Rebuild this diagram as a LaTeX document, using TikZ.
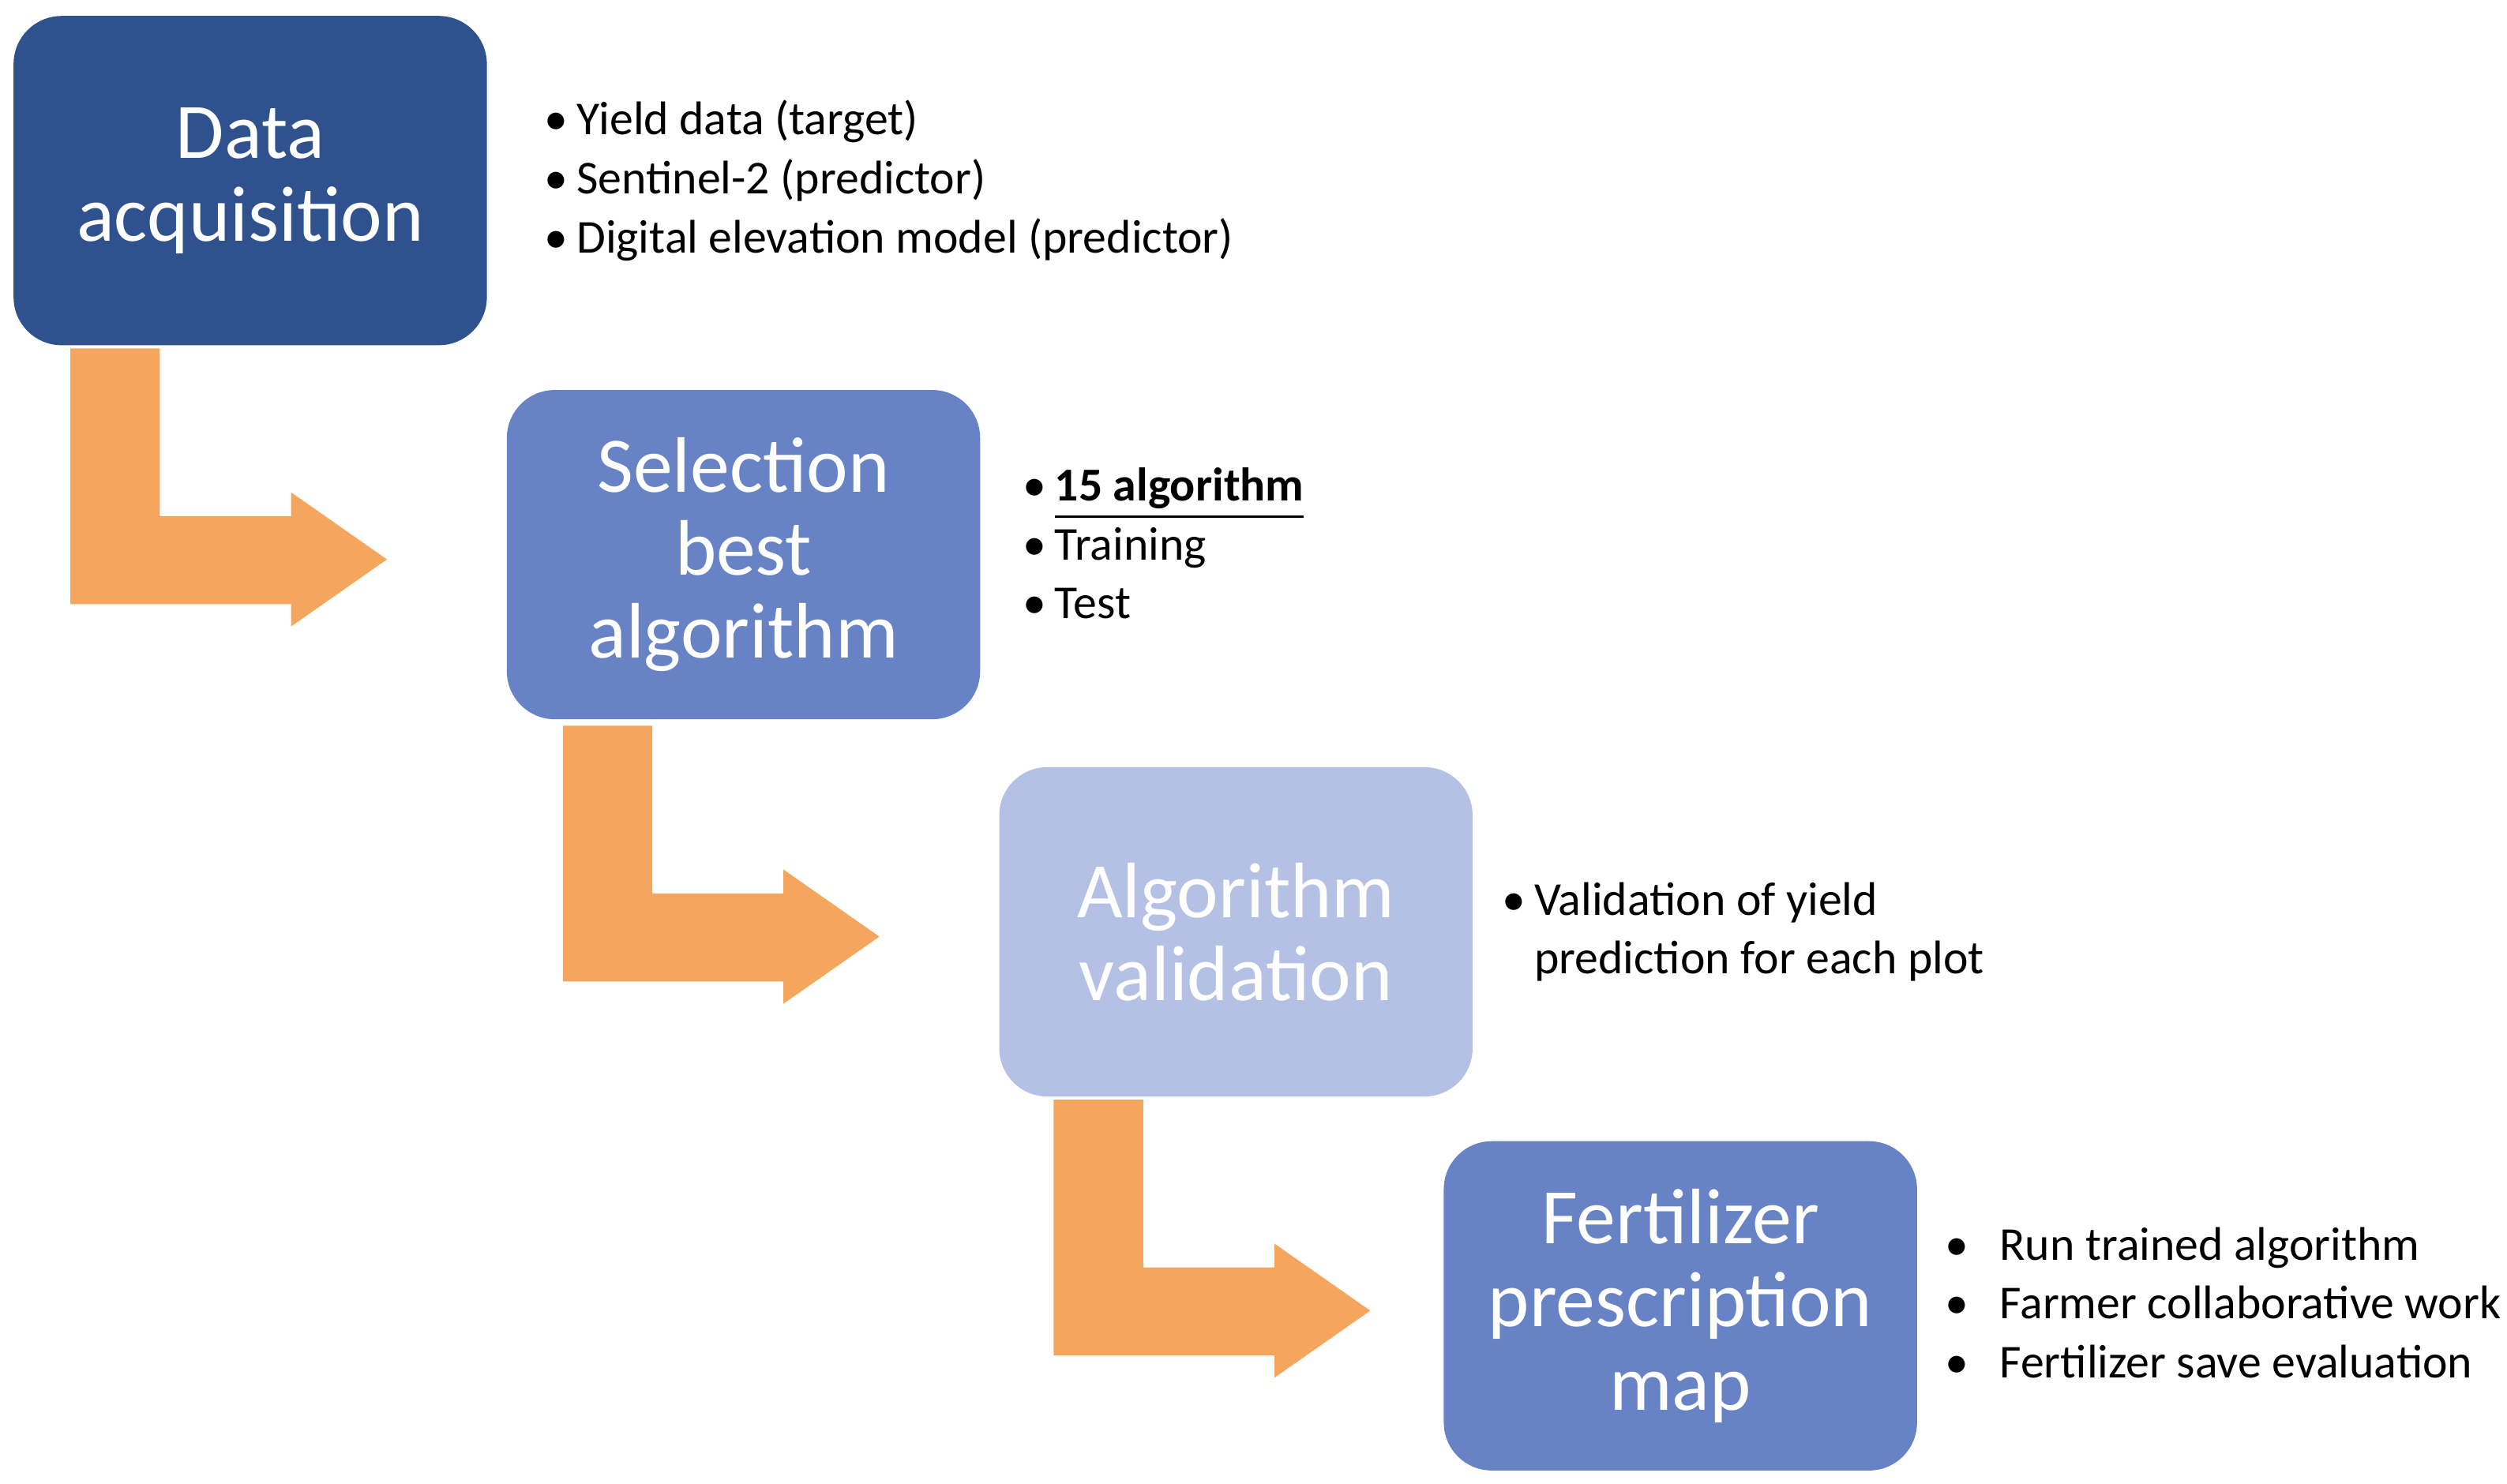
\documentclass[tikz,border=0pt]{standalone}
\usepackage{fontspec}
\setmainfont{Carlito}
\usetikzlibrary{positioning}
\definecolor{darkblue}{HTML}{2F528F}
\definecolor{midblue}{HTML}{6783C6}
\definecolor{lightblue}{HTML}{B4C1E4}
\definecolor{flow}{HTML}{F5A65E}
\tikzset{
  stage/.style={rounded corners=3mm, minimum width=29.6mm, minimum height=20.6mm,
    text width=27mm, align=center, font=\fontsize{14}{14.8}\selectfont, text=white, inner sep=0pt},
  notes/.style={right, align=left, font=\fontsize{8.4}{10.5}\selectfont, inner sep=0pt}
}
\newcommand{\bl}[1]{\makebox[2.0mm][l]{\textbullet}#1}
\newcommand{\flowarrow}[2]{%
  \fill[flow] (#1,#2) -- ++(5.6,0) -- ++(0,-10.5) -- ++(8.2,0) -- ++(0,1.5)
    -- ++(6,-4.2) -- ++(-6,-4.2) -- ++(0,1.4) -- ++(-13.8,0) -- cycle;}
\begin{document}
\begin{tikzpicture}[x=1mm,y=1mm]
\useasboundingbox (0,0) rectangle (156.8,-92.8);
\node[stage, fill=darkblue] (acq) at (15.65,-11.3) {Data\\acquisition};
\node[stage, fill=midblue] (sel) at (46.5,-34.7) {Selection\\best\\algorithm};
\node[stage, fill=lightblue] (val) at (77.3,-58.3) {Algorithm\\validation};
\node[stage, fill=midblue] (fert) at (105.1,-81.7) {Fertilizer\\prescription\\map};
\flowarrow{4.4}{-21.8}
\flowarrow{35.2}{-45.4}
\flowarrow{65.9}{-68.8}
\node[notes] (acqnotes) at (34.0,-11.3) {\bl{Yield data (target)}\\\bl{Sentinel-2 (predictor)}\\\bl{Digital elevation model (predictor)}};
\node[notes] (selnotes) at (63.9,-34.0) {\bl{\textbf{\underline{15 algorithm}}}\\\bl{Training}\\\bl{Test}};
\node[notes] (valnotes) at (93.9,-58.3) {\bl{Validation of yield}\\\hspace*{2.0mm}prediction for each plot};
\node[notes] (fertnotes) at (121.6,-81.5) {\makebox[3.4mm][l]{\textbullet}Run trained algorithm\\\makebox[3.4mm][l]{\textbullet}Farmer collaborative work\\\makebox[3.4mm][l]{\textbullet}Fertilizer save evaluation};
\end{tikzpicture}
\end{document}
